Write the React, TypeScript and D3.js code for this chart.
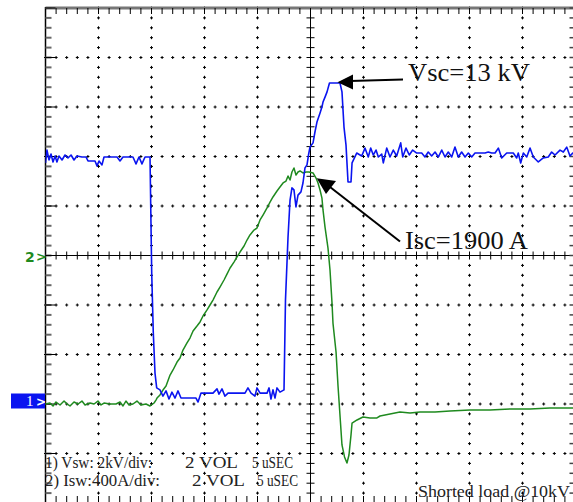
import React from "react";
import * as d3 from "d3";

// Channel 1: Vsw (kV) vs time (µs)
const blueTime = [0,0.14,0.33,0.52,0.71,0.90,1.08,1.27,1.56,1.84,2.12,2.41,2.69,2.97,3.44,3.82,4.01,4.67,4.86,5.05,5.33,5.52,6.08,6.75,7.03,7.31,8.25,8.54,8.82,9.10,9.39,9.86,10.02,10.17,10.33,10.49,10.80,11.08,11.37,11.65,11.93,12.22,12.50,12.78,14.20,14.39,14.67,15.80,16.18,16.37,16.65,16.93,17.22,18.82,19.10,19.39,19.76,19.95,20.24,20.90,21.09,21.27,21.46,21.65,21.84,22.12,22.50,22.64,22.88,23.07,23.25,23.44,23.63,23.82,24.10,24.29,24.48,24.67,24.81,24.95,25.24,25.42,25.61,25.90,26.08,26.18,26.37,26.56,26.79,27.78,27.97,28.16,28.35,28.54,28.82,28.92,29.36,29.83,30.14,30.45,30.68,30.92,31.18,31.40,31.72,31.87,32.19,32.50,32.81,33.13,33.51,33.70,34.01,34.32,34.64,35.02,35.49,35.80,36.11,36.43,36.75,37.06,37.38,37.69,38.00,38.32,38.63,38.94,39.26,39.58,39.89,40.21,40.52,40.99,41.46,41.77,42.09,42.41,42.72,43.04,43.51,44.13,44.45,44.60,44.83,45.08,45.40,45.71,46.02,46.49,46.96,47.43,47.75,48.07,48.54,48.85,49.17,49.48,49.74,50];
const blueKV = [9.74,10.26,9.86,10.10,9.78,10.02,9.78,10.02,9.86,10.06,9.94,10.06,9.86,10.02,9.98,9.98,9.82,9.82,9.62,9.82,9.66,9.98,9.98,9.98,9.82,9.98,9.98,9.70,9.98,9.70,9.98,9.98,5.29,2.87,1.25,0.65,0.57,0.32,0.53,0.20,0.48,0.24,0.53,0.24,0.24,0.08,0.44,0.44,0.61,0.40,0.61,0.32,0.44,0.44,0.65,0.44,0.32,0.65,0.44,0.44,0.65,0.20,0.57,0.24,0.65,0.48,0.57,4.20,6.75,8.24,8.73,8.65,7.96,8.44,8.57,8.93,9.54,9.66,10.06,10.38,10.55,10.99,11.39,11.76,12.00,12.20,12.40,12.61,12.97,12.97,12.61,11.19,10.46,8.97,8.97,9.74,10.14,10.02,10.34,9.98,10.34,10.06,10.26,9.98,10.10,9.74,10.34,9.98,10.26,10.02,10.55,9.98,10.34,10.06,10.26,10.14,10.14,9.98,10.18,10.02,10.18,9.98,10.26,9.98,10.18,9.98,10.38,9.98,10.18,9.98,10.14,9.98,10.14,10.14,10.14,10.18,10.14,10.14,10.34,9.94,10.14,10.14,9.94,10.14,9.74,10.14,9.98,10.34,9.98,9.78,9.94,9.98,10.18,10.06,10.26,10.18,10.38,10.02,10.14,10.06];

// Channel 2: Isw (A) vs time (µs)
const greenTime = [0,0.42,0.71,0.99,1.37,1.75,2.03,2.31,2.69,3.07,3.44,3.73,4.20,4.58,4.95,5.24,5.52,6.08,6.65,7.03,7.31,7.59,7.88,8.25,8.63,9.01,9.48,9.86,10.24,10.42,10.52,10.80,11.08,11.37,11.75,12.03,12.41,12.69,12.97,13.35,13.63,13.92,14.29,14.58,14.86,15.24,15.52,15.80,16.18,16.46,16.84,17.12,17.41,17.78,18.07,18.35,18.73,19.01,19.29,19.67,19.95,20.24,20.52,20.90,21.18,21.46,21.84,22.12,22.41,22.69,22.88,23.07,23.25,23.44,23.63,23.82,24.01,24.29,24.58,24.86,25.24,25.52,25.71,25.90,26.08,26.18,26.37,26.65,26.84,27.03,27.12,27.41,27.59,27.78,27.97,28.21,28.44,28.63,28.82,28.92,29.39,29.95,30.61,31.27,31.56,32.50,33.44,34.39,35.33,36.75,38.16,40.05,41.93,43.82,45.71,47.59,50];
const greenAmp = [0,8,-16,16,-8,24,0,-16,16,0,24,-8,8,0,24,-8,8,0,0,16,-16,24,-8,0,24,-8,0,-16,8,32,48,73,113,145,234,275,339,372,436,493,533,590,630,663,711,760,800,840,905,945,1002,1050,1099,1147,1188,1228,1277,1325,1366,1406,1422,1487,1527,1584,1632,1673,1721,1753,1786,1802,1842,1810,1875,1907,1850,1875,1883,1867,1875,1875,1867,1826,1786,1729,1664,1568,1430,1260,1083,816,654,420,154,-89,-331,-428,-477,-412,-251,-154,-129,-105,-113,-113,-97,-81,-65,-73,-65,-65,-57,-48,-48,-40,-40,-32,-32];

const line1Parts = ["1) Vsw: 2kV/div:", "2 VOL", "5 uSEC"];
const line2Parts = ["2) Isw:400A/div:", "2 VOL", "5 uSEC"];
const vscLabel = "Vsc=13 kV";
const iscLabel = "Isc=1900 A";
const noteLabel = "Shorted load @10kV";

const W = 573, H = 502;
const L = 45.5, R = 575.5, T = 8, B = 503;
const serif = "'Liberation Serif', 'Times New Roman', serif";

export default function App() {
  const x = d3.scaleLinear().domain([0, 50]).range([L, R]);
  const yV = d3.scaleLinear().domain([-4, 16]).range([B, T]);
  const yI = d3.scaleLinear().domain([-800, 3200]).range([B, T]);

  const majorT = d3.range(0, 50.001, 5);
  const minorT = d3.range(0, 50.001, 1);
  const majorV = d3.range(-4, 16.001, 2);
  const minorV = d3.range(-4, 16.001, 0.4);
  const cT = 25, cV = 6;

  const near = (a: number, b: number) => Math.abs(a - b) < 1e-6;

  const blueLine = d3.line<number>().x((_, i) => x(blueTime[i])).y((v) => yV(v))(blueKV) || "";
  const greenLine = d3.line<number>().x((_, i) => x(greenTime[i])).y((v) => yI(v))(greenAmp) || "";

  const crosses: [number, number][] = [];
  majorT.forEach((t) => {
    if (near(t, 0) || near(t, 50) || near(t, cT)) return;
    minorV.forEach((v) => crosses.push([x(t), yV(v)]));
  });
  majorV.forEach((v) => {
    if (near(v, -4) || near(v, 16) || near(v, cV)) return;
    minorT.forEach((t) => crosses.push([x(t), yV(v)]));
  });

  const cx = x(cT), cy = yV(cV);
  const sg = "spacingAndGlyphs";

  return (
    <svg width={W} height={H} style={{ position: "absolute", left: 0, top: 0, background: "#fff" }}>
      <defs>
        <clipPath id="plot">
          <rect x={L} y={T} width={R - L} height={B - T} />
        </clipPath>
      </defs>
      <rect x={0} y={0} width={W} height={H} fill="#fff" />
      {/* grid crosses */}
      <g stroke="#000" strokeWidth={1}>
        {crosses.map(([px, py], i) => (
          <path key={i} d={`M${px - 1.5},${py}H${px + 1.5}M${px},${py - 1.5}V${py + 1.5}`} />
        ))}
      </g>
      {/* center axes */}
      <g stroke="#000" strokeWidth={1}>
        <line x1={cx} x2={cx} y1={T} y2={B} />
        <line x1={L} x2={R} y1={cy} y2={cy} />
        {minorV.map((v, i) => (
          <line key={"cv" + i} x1={cx - 4} x2={cx + 4} y1={yV(v)} y2={yV(v)} />
        ))}
        {minorT.map((t, i) => (
          <line key={"ct" + i} x1={x(t)} x2={x(t)} y1={cy - 4} y2={cy + 4} />
        ))}
      </g>
      {/* frame edges */}
      <g>
        <line x1={L} x2={R} y1={T} y2={T} stroke="#777" strokeWidth={3} />
        <line x1={L} x2={L} y1={T - 1} y2={B} stroke="#000" strokeWidth={1.5} />
        {minorT.map((t, i) => (
          <line key={"tt" + i} x1={x(t)} x2={x(t)} y1={T} y2={T + 6} stroke="#000" strokeWidth={1} />
        ))}
        {minorT.map((t, i) => (
          <line key={"bt" + i} x1={x(t)} x2={x(t)} y1={B - 7} y2={B} stroke="#000" strokeWidth={1} />
        ))}
        {minorV.map((v, i) => (
          <line key={"lt" + i} x1={L} x2={L + 6} y1={yV(v)} y2={yV(v)} stroke="#666" strokeWidth={2} />
        ))}
        {majorV.map((v, i) => (
          <line key={"lm" + i} x1={L} x2={L + 10} y1={yV(v)} y2={yV(v)} stroke="#000" strokeWidth={1} />
        ))}
        {minorV.map((v, i) => (
          <line key={"rt" + i} x1={R - 6} x2={R} y1={yV(v)} y2={yV(v)} stroke="#444" strokeWidth={1.5} />
        ))}
      </g>
      {/* traces */}
      <g clipPath="url(#plot)" fill="none" strokeLinejoin="round">
        <path d={greenLine} stroke="#1f8a1f" strokeWidth={1.5} />
        <path d={blueLine} stroke="#0a14f0" strokeWidth={1.6} />
      </g>
      {/* channel markers */}
      <text x={25} y={261.5} fontFamily="'DejaVu Sans', sans-serif" fontSize={14} fontWeight="bold" fill="#1f8a1f">2</text>
      <text x={36} y={261} fontFamily="'DejaVu Sans', sans-serif" fontSize={13} fontWeight="bold" fill="#1f8a1f">&gt;</text>
      <rect x={11} y={393.5} width={34} height={15} fill="#0a14f0" />
      <text x={26} y={406} fontFamily={serif} fontSize={15} fill="#fff">1</text>
      <text x={36} y={405.5} fontFamily="'DejaVu Sans', sans-serif" fontSize={12} fontWeight="bold" fill="#fff">&gt;</text>
      {/* scale text */}
      <g fontFamily={serif} fontSize={16.5} fill="#222">
        <text x={45} y={467.5} textLength={107} lengthAdjust={sg}>{line1Parts[0]}</text>
        <text x={185} y={467.5} textLength={53} lengthAdjust={sg}>{line1Parts[1]}</text>
        <text x={252} y={467.5} textLength={41} lengthAdjust={sg}>{line1Parts[2]}</text>
        <text x={45} y={485.5} textLength={115} lengthAdjust={sg}>{line2Parts[0]}</text>
        <text x={192} y={485.5} textLength={53} lengthAdjust={sg}>{line2Parts[1]}</text>
        <text x={257} y={485.5} textLength={41} lengthAdjust={sg}>{line2Parts[2]}</text>
        <text x={418} y={497} fontSize={17} textLength={152} lengthAdjust={sg}>{noteLabel}</text>
      </g>
      {/* annotations */}
      <g fontFamily={serif} fontSize={25} fill="#111">
        <text x={408} y={81} textLength={122} lengthAdjust={sg}>{vscLabel}</text>
        <text x={405} y={249} textLength={123} lengthAdjust={sg}>{iscLabel}</text>
      </g>
      <g stroke="#000" strokeWidth={2}>
        <line x1={403} y1={79.5} x2={350} y2={81} />
        <line x1={400} y1={241.5} x2={330} y2={187} />
      </g>
      <path d="M337.5,82.3 L353,74.5 L353,89.5 Z" fill="#000" />
      <path d="M316.7,178.3 L326,194 L336,181 Z" fill="#000" />
    </svg>
  );
}
